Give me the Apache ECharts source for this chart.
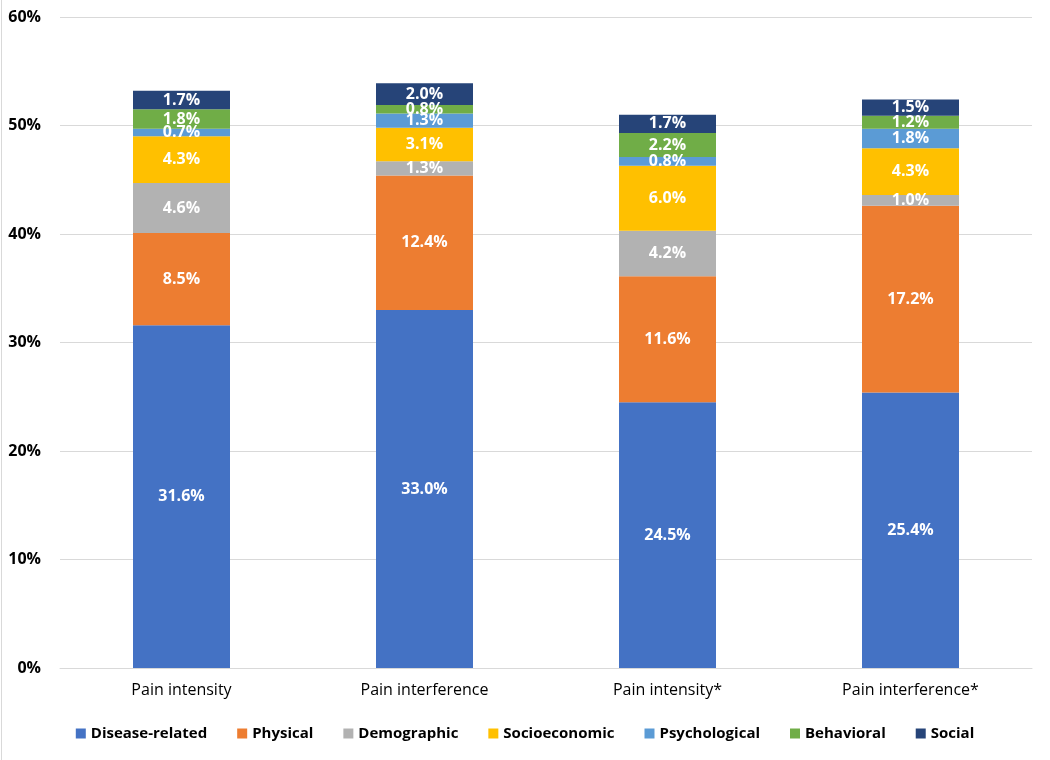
<!DOCTYPE html>
<html><head><meta charset="utf-8">
<script src="https://cdn.jsdelivr.net/npm/echarts@6/dist/echarts.min.js"></script>
<style>html,body{margin:0;padding:0;background:#fff}#c{width:1050px;height:760px}</style>
</head><body><div id="c"></div>
<script>
const categories = ['Pain intensity', 'Pain interference', 'Pain intensity*', 'Pain interference*'];
const diseaseRelated = [31.6, 33.0, 24.5, 25.4];
const physical = [8.5, 12.4, 11.6, 17.2];
const demographic = [4.6, 1.3, 4.2, 1.0];
const socioeconomic = [4.3, 3.1, 6.0, 4.3];
const psychological = [0.7, 1.3, 0.8, 1.8];
const behavioral = [1.8, 0.8, 2.2, 1.2];
const social = [1.7, 2.0, 1.7, 1.5];
const seriesNames = ['Disease-related', 'Physical', 'Demographic', 'Socioeconomic', 'Psychological', 'Behavioral', 'Social'];
const seriesData = [diseaseRelated, physical, demographic, socioeconomic, psychological, behavioral, social];
const colors = ['#4472C4', '#ED7D31', '#B2B2B2', '#FFC000', '#5B9BD5', '#70AD47', '#264478'];
const FONT = '"Open Sans", "Noto Sans", sans-serif';

const chart = echarts.init(document.getElementById('c'));
chart.setOption({
  animation: false,
  color: colors,
  graphic: [{type: 'line', shape: {x1: 1.5, y1: 0, x2: 1.5, y2: 760}, style: {stroke: '#D9D9D9', lineWidth: 1}}],
  grid: {left: 60, right: 18, top: 17, bottom: 92},
  legend: {
    bottom: 14, left: 'center', itemWidth: 10, itemHeight: 10, itemGap: 30,
    icon: 'rect',
    textStyle: {fontFamily: FONT, fontWeight: 'bold', fontSize: 15, color: '#000'},
    data: seriesNames
  },
  xAxis: {
    type: 'category', data: categories,
    axisLine: {lineStyle: {color: '#D9D9D9'}},
    axisTick: {show: false},
    axisLabel: {fontFamily: FONT, fontSize: 16, color: '#000', margin: 14}
  },
  yAxis: {
    type: 'value', min: 0, max: 60, interval: 10,
    axisLine: {show: false}, axisTick: {show: false},
    splitLine: {lineStyle: {color: '#D9D9D9', width: 1}},
    axisLabel: {fontFamily: FONT, fontWeight: 'bold', fontSize: 16, color: '#000', margin: 19, formatter: '{value}%'}
  },
  series: seriesNames.map((n, i) => ({
    name: n, type: 'bar', stack: 'total', barWidth: 97,
    data: seriesData[i],
    label: {
      show: true, position: 'inside', color: '#fff', fontFamily: FONT, fontWeight: 'bold', fontSize: 16,
      formatter: p => p.value.toFixed(1) + '%'
    },
    labelLayout: {hideOverlap: false}
  }))
});
</script></body></html>
